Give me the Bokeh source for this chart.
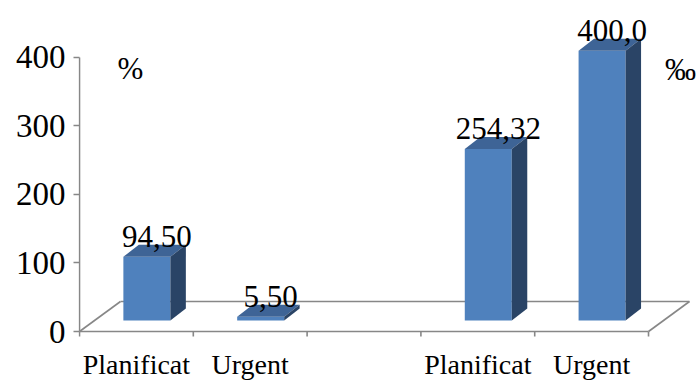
from bokeh.plotting import figure
from bokeh.models import Range1d, FixedTicker, ColumnDataSource
from bokeh.core.properties import value
from bokeh.embed import file_html
from bokeh.resources import INLINE

# Category slots along the x axis (slot 2 is an empty gap between the groups)
categories = ["Planificat", "Urgent", "", "Planificat", "Urgent"]
slots = [0, 1, 3, 4]
values = [94.50, 5.50, 254.32, 400.0]
value_labels = ["94,50", "5,50", "254,32", "400,0"]
y_ticks = [0, 100, 200, 300, 400]
unit_left = "%"
unit_right = "‰"

FONT = "Liberation Serif"
FRONT = "#4f81bd"
TOP = "#3e6496"
SIDE = "#2a4466"
GRID_GREY = "#878787"

# pseudo-3D geometry (x in slot units, y in value units)
FLOOR_DX, FLOOR_DY = 0.36, 43.8      # depth of the floor
BAR_DX, BAR_DY = 0.092, 16.0         # front plane of the bars
BOX_DX, BOX_DY = 0.136, 17.5         # bar depth
BAR_W = 0.413
DEPTH_SCALE = 0.985                  # bars sit a little behind the axis plane
TICK_LEN = 7.3                       # category tick length (value units)
CAT_LABEL_Y = -62.8                  # baseline of the category names

# the plot area covers the canvas below and right of the value axis
p = figure(width=699, height=380, output_backend="svg", toolbar_location=None,
           x_range=Range1d(-0.0088, 5.448), y_range=Range1d(-71.53, 483.2),
           x_axis_location=None,
           min_border_left=78, min_border_right=0, min_border_top=0,
           min_border_bottom=0)
p.outline_line_color = None
p.background_fill_color = "white"
p.border_fill_color = "white"
p.xgrid.visible = False
p.ygrid.visible = False

# floor of the 3D box
n = len(categories)
p.line([0, n], [0, 0], line_color=GRID_GREY, line_width=1.6)
p.line([FLOOR_DX, n + FLOOR_DX], [FLOOR_DY, FLOOR_DY], line_color=GRID_GREY, line_width=1.6)
p.line([0, FLOOR_DX], [0, FLOOR_DY], line_color=GRID_GREY, line_width=1.6)
p.line([n, n + FLOOR_DX], [0, FLOOR_DY], line_color=GRID_GREY, line_width=1.6)
# vertical axis line
p.line([0, 0], [0, y_ticks[-1]], line_color=GRID_GREY, line_width=1.6)

# category tick marks at slot boundaries and names at slot centres
bounds = list(range(n + 1))
p.segment(x0=bounds, y0=[0] * len(bounds), x1=bounds, y1=[-TICK_LEN] * len(bounds),
          line_color=GRID_GREY, line_width=1.6)
cat_x = [i + 0.5 for i, c in enumerate(categories) if c]
cat_t = [c for c in categories if c]
p.text(x=cat_x, y=[CAT_LABEL_Y] * len(cat_x), text=cat_t, text_font=value(FONT),
       text_font_size="28px", text_color="black", text_align="center",
       text_baseline="bottom", y_offset=5)

# bars as three faces each
front_xs, front_ys, top_xs, top_ys, side_xs, side_ys = [], [], [], [], [], []
lab_x, lab_y = [], []
for s, v in zip(slots, values):
    xl = s + 0.5 + BAR_DX - BAR_W / 2
    xr = xl + BAR_W
    y0 = BAR_DY
    y1 = BAR_DY + v * DEPTH_SCALE
    front_xs.append([xl, xr, xr, xl]); front_ys.append([y0, y0, y1, y1])
    top_xs.append([xl, xr, xr + BOX_DX, xl + BOX_DX]); top_ys.append([y1, y1, y1 + BOX_DY, y1 + BOX_DY])
    side_xs.append([xr, xr + BOX_DX, xr + BOX_DX, xr]); side_ys.append([y0, y0 + BOX_DY, y1 + BOX_DY, y1])
    lab_x.append((xl + xr + BOX_DX) / 2 + 0.02)
    lab_y.append(y1 + BOX_DY)

p.patches(front_xs, front_ys, fill_color=FRONT, line_color=None)
p.patches(top_xs, top_ys, fill_color=TOP, line_color=None)
p.patches(side_xs, side_ys, fill_color=SIDE, line_color=None)

labels = ColumnDataSource(dict(x=lab_x, y=lab_y, text=value_labels))
p.text(x="x", y="y", text="text", source=labels, text_font=value(FONT),
       text_font_size="31px", text_color="black", text_align="center",
       text_baseline="bottom", y_offset=2)

# unit markers
p.text(x=[0.448, 5.28], y=[365, 363.5], text=[unit_left, unit_right],
       text_font=value(FONT), text_font_size="31px", text_color="black",
       text_align="center", text_baseline="bottom", y_offset=5)

# value axis
p.yaxis.ticker = FixedTicker(ticks=y_ticks)
p.yaxis.axis_line_color = None
p.yaxis.major_tick_line_color = GRID_GREY
p.yaxis.major_tick_line_width = 1.6
p.yaxis.major_tick_out = 5
p.yaxis.major_tick_in = 1
p.yaxis.minor_tick_line_color = None
p.yaxis.major_label_standoff = 8
p.yaxis.major_label_text_font = FONT
p.yaxis.major_label_text_font_size = "33px"
p.yaxis.major_label_text_color = "black"

open("out.html", "w").write(file_html(p, INLINE))
